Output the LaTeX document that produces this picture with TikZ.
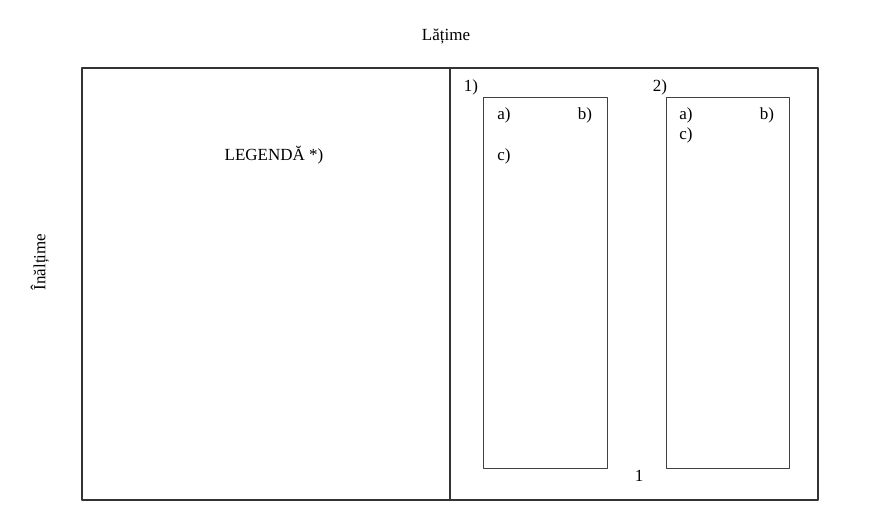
\documentclass[tikz,border=0pt]{standalone}
\usepackage{fontspec}
\setmainfont{Liberation Serif}
\begin{document}
\begin{tikzpicture}
	[
		line cap=round,
		line join=round,
		x=1pt,
		y=-1pt,
		every node/.style={font=\fontsize{17}{19}\selectfont, inner sep=0pt}
	]
		\useasboundingbox (0,0) rectangle (870,522);
		% page frame and middle fold
		\draw [line width=1.4pt, color=black!80] (82,68) rectangle (818,500);
		\draw [line width=1.4pt, color=black!80] (450,68) -- (450,500);
		% the two panels
		\draw [line width=1pt, color=black!75] (483,97) rectangle (607,468);
		\draw [line width=1pt, color=black!75] (666,97) rectangle (789,468);
		\draw (446,37) node (latime) {Lățime};
		\draw (40,262) node[rotate=90] (inaltime) {Înălțime};
		\draw (274,155) node (legenda) {LEGENDĂ *)};
		\draw (471,87) node (unu) {1)};
		\draw (660,87) node (doi) {2)};
		\draw (504,115) node (unua) {a)};
		\draw (585,115) node (unub) {b)};
		\draw (504,156) node (unuc) {c)};
		\draw (686,115) node (doia) {a)};
		\draw (767,115) node (doib) {b)};
		\draw (686,135) node (doic) {c)};
		\draw (639,476) node (pagina) {1};
	\end{tikzpicture}
\end{document}
